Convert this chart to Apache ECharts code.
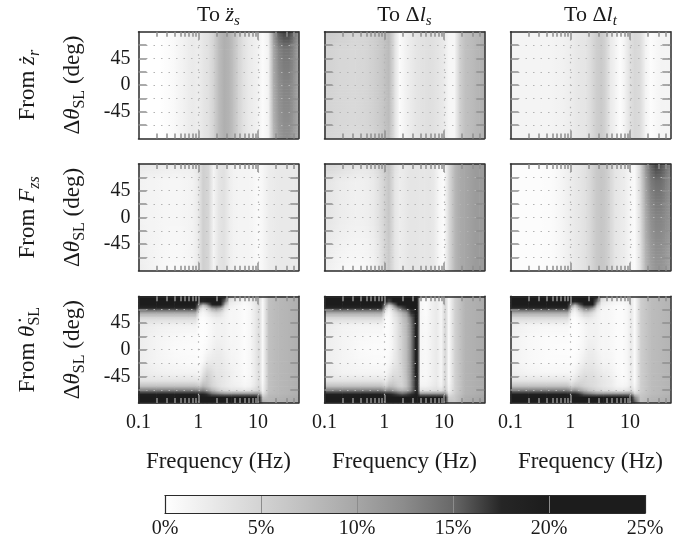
<!DOCTYPE html>
<html>
<head>
<meta charset="utf-8">
<script src="https://cdn.jsdelivr.net/npm/echarts@6/dist/echarts.min.js"></script>
<style>
html,body{margin:0;padding:0;background:#fff;}
#chart{width:692px;height:543px;}
</style>
</head>
<body>
<div id="chart"></div>
<script>
// ================= DATA =================
// frequency nodes (Hz) for the first two rows of panels
const FREQ = [0.1, 0.12, 0.15, 0.18, 0.22, 0.27, 0.33, 0.39, 0.47, 0.56, 0.68, 0.82, 1.0, 1.2, 1.5, 1.8, 2.2, 2.7, 3.3, 3.9, 4.7, 5.6, 6.8, 8.2, 10, 12, 15, 18, 22, 27, 33, 39, 47];
// angle rows (deg) for the first two rows of panels: top edge, upper, centre, bottom edge
const ANG_ROWS = [90, 60, 0, -90];

// Row 1: from z_r  (values in %)
const ZR_ZS_TOP = [0, 0, 0, 0, 0, 0.2, 0.4, 0.7, 1.1, 1.5, 2.0, 2.4, 2.0, 2.8, 3.5, 5.0, 7.5, 9.0, 8.5, 7.0, 5.0, 3.5, 2.5, 2.0, 1.5, 0.5, 2.0, 11, 15.5, 16.5, 16.5, 15, 12];
const ZR_ZS_UP  = [0, 0, 0, 0, 0, 0.2, 0.4, 0.7, 1.1, 1.5, 2.0, 2.4, 2.0, 2.8, 3.5, 5.0, 7.5, 9.0, 8.5, 7.0, 5.0, 3.5, 2.5, 2.0, 1.5, 0.5, 1.5, 9.5, 13, 14, 14, 13, 10.5];
const ZR_ZS_MID = [0, 0, 0, 0, 0, 0.2, 0.4, 0.7, 1.1, 1.5, 2.0, 2.4, 2.0, 2.8, 3.5, 5.0, 7.5, 9.0, 8.5, 7.0, 5.0, 3.5, 2.5, 2.0, 1.5, 0.5, 1.5, 9, 12, 13, 13, 12, 10];
const ZR_ZS_BOT = [0, 0, 0, 0, 0, 0.2, 0.4, 0.7, 1.1, 1.5, 2.0, 2.4, 2.0, 2.8, 3.5, 5.0, 7.5, 9.0, 8.5, 7.0, 5.0, 3.5, 2.5, 2.0, 1.5, 0.5, 1.5, 8, 11, 12, 12, 11, 9.5];

const ZR_LS_TOP = [6.0, 6.0, 5.8, 5.5, 5.3, 5.0, 4.8, 4.8, 4.9, 5.2, 5.6, 6.2, 7.0, 8.0, 3.6, 0.6, 1.4, 2.2, 2.8, 3.2, 3.4, 3.6, 3.4, 3.0, 2.4, 1.0, 1.0, 5.0, 7.0, 7.5, 8.0, 8.5, 9.0];
const ZR_LS_MID = [5.0, 5.0, 4.8, 4.6, 4.5, 4.4, 4.4, 4.5, 4.7, 5.0, 5.4, 6.0, 6.8, 7.8, 3.4, 0.5, 1.4, 2.2, 2.8, 3.2, 3.4, 3.6, 3.4, 3.0, 2.4, 1.0, 1.0, 5.0, 7.0, 7.5, 8.0, 8.5, 9.0];
const ZR_LS_BOT = [4.8, 4.8, 4.6, 4.4, 4.3, 4.2, 4.2, 4.3, 4.5, 4.8, 5.2, 5.8, 6.6, 7.6, 3.4, 0.5, 1.4, 2.2, 2.8, 3.2, 3.4, 3.6, 3.4, 3.0, 2.4, 1.0, 1.0, 5.0, 7.0, 7.5, 8.0, 8.5, 9.0];

const ZR_LT_MID = [1.2, 1.2, 1.2, 1.2, 1.2, 1.2, 1.2, 1.2, 1.3, 1.4, 1.5, 1.7, 2.0, 2.5, 2.8, 3.0, 4.0, 5.5, 6.0, 5.0, 2.5, 1.5, 0.3, 1.5, 3.5, 4.5, 4.0, 1.5, 0.3, 0.8, 1.2, 1.3, 1.3];

// Row 2: from F_zs
const FZ_ZS_TOP = [2.8, 2.7, 2.6, 2.5, 2.4, 2.3, 2.2, 2.1, 2.0, 2.0, 2.0, 2.1, 3.0, 5.5, 4.5, 1.2, 3.0, 3.5, 2.0, 1.5, 1.3, 1.2, 1.2, 1.0, 0.6, 1.0, 2.0, 2.3, 2.5, 2.5, 2.5, 2.5, 2.5];
const FZ_ZS_MID = [1.5, 1.4, 1.3, 1.2, 1.1, 1.0, 1.0, 1.0, 1.0, 1.1, 1.2, 1.5, 2.5, 5.5, 4.5, 1.2, 3.0, 3.5, 2.0, 1.5, 1.3, 1.2, 1.2, 1.0, 0.6, 1.0, 2.0, 2.3, 2.5, 2.5, 2.5, 2.5, 2.5];
const FZ_ZS_BOT = [2.0, 1.8, 1.5, 1.2, 1.0, 0.8, 0.7, 0.7, 0.7, 0.8, 1.0, 1.3, 2.5, 5.5, 4.5, 1.2, 3.0, 3.5, 2.0, 1.5, 1.3, 1.2, 1.2, 1.0, 0.6, 1.0, 2.0, 2.3, 2.5, 2.5, 2.5, 2.5, 2.5];

const FZ_LS_TOP = [5.0, 4.8, 4.5, 4.2, 3.8, 3.5, 3.2, 3.0, 3.0, 3.2, 3.6, 4.5, 6.0, 7.0, 3.5, 2.2, 2.5, 3.0, 3.0, 2.8, 2.8, 3.0, 2.5, 1.0, 0.5, 4.0, 8.0, 9.5, 10.0, 10.5, 11.0, 11.0, 11.0];
const FZ_LS_MID = [3.0, 2.8, 2.5, 2.2, 2.0, 1.8, 1.7, 1.7, 1.8, 2.0, 2.5, 3.5, 5.0, 6.5, 3.0, 2.0, 2.5, 3.0, 3.0, 2.8, 2.8, 3.0, 2.5, 1.0, 0.5, 4.0, 8.0, 9.5, 10.0, 10.5, 11.0, 11.0, 11.0];
const FZ_LS_BOT = [2.0, 1.6, 1.2, 1.0, 0.8, 0.7, 0.7, 0.7, 0.8, 1.0, 1.5, 2.5, 4.5, 6.0, 3.0, 2.0, 2.5, 3.0, 3.0, 2.8, 2.8, 3.0, 2.5, 1.0, 0.5, 4.0, 8.0, 9.5, 10.0, 10.5, 11.0, 11.0, 11.0];

const FZ_LT_TOP = [0.3, 0.3, 0.3, 0.3, 0.3, 0.3, 0.3, 0.4, 0.5, 0.7, 1.0, 1.5, 2.0, 2.5, 3.0, 3.5, 4.5, 6.0, 6.5, 6.0, 4.5, 3.0, 2.5, 2.0, 1.0, 0.8, 5.0, 11.0, 15.0, 16.5, 16.0, 15.0, 13.0];
const FZ_LT_UP  = [0.3, 0.3, 0.3, 0.3, 0.3, 0.3, 0.3, 0.4, 0.5, 0.7, 1.0, 1.5, 2.0, 2.5, 3.0, 3.5, 4.5, 6.0, 6.5, 6.0, 4.5, 3.0, 2.5, 2.0, 1.0, 0.6, 4.5, 10.0, 13.5, 14.5, 14.5, 13.5, 12.0];
const FZ_LT_MID = [0.3, 0.3, 0.3, 0.3, 0.3, 0.3, 0.3, 0.4, 0.5, 0.7, 1.0, 1.5, 2.0, 2.5, 3.0, 3.5, 4.5, 6.0, 6.5, 6.0, 4.5, 3.0, 2.5, 2.0, 1.0, 0.5, 4.0, 9.0, 12.0, 13.0, 13.0, 12.5, 11.5];
const FZ_LT_BOT = [0.3, 0.3, 0.3, 0.3, 0.3, 0.3, 0.3, 0.4, 0.5, 0.7, 1.0, 1.5, 2.0, 2.5, 3.0, 3.5, 4.5, 6.0, 6.5, 6.0, 4.5, 3.0, 2.5, 2.0, 1.0, 0.5, 3.5, 8.0, 10.5, 11.5, 11.5, 11.0, 10.0];

// Row 3: from theta_SL — frequency nodes and angle nodes (top to bottom)
const FREQ3 = [0.1, 0.2, 0.4, 0.7, 0.9, 1.05, 1.2, 1.4, 1.7, 2.0, 2.4, 2.8, 3.3, 3.6, 4.0, 5.0, 6.0, 7.5, 9.0, 10.5, 12, 15, 22, 33, 47];
const ANG3 = [90, 80, 75, 70, 62, 52, 40, 20, 0, -20, -40, -52, -62, -70, -75, -80, -90];
// one column per frequency of FREQ3, values from +90 deg down to -90 deg
const TH_ZS = [
 [22,22,22,18,10,4,2.5,2,2,2,2.5,3,7,14,19,22,22],
 [22,22,22,18,10,4,1.8,1.2,1.2,1.2,1.8,3,7,14,19,22,22],
 [22,22,22,18,10,4,1.5,0.8,0.6,0.8,1.5,3,7,14,19,22,22],
 [22,22,22,18,10,4,1.5,0.6,0.5,0.6,1.5,3,7,14,19,22,22],
 [22,22,22,18,10,4,1.5,0.6,0.5,0.6,1.5,3,7,14,19,22,22],
 [22,21,14,6,2,0.5,0.3,0.2,0.2,0.3,1,2.5,6,13,18,22,22],
 [22,18,8,3,1,0.3,0.2,0.2,0.3,0.8,3,5,8,14,18,22,22],
 [22,20,12,5,2,0.8,0.5,0.5,0.8,2,5,6,7,12,17,22,22],
 [22,22,19,11,4,1.5,1,1,1.5,2.5,4,4.5,5,9,15,21,22],
 [22,22,21,13,5,2,1.5,1.5,2,2.5,3,3.5,4,7,14,21,22],
 [22,22,18,10,4,2,1.5,1.5,2,2.5,3,3,3,5,13,21,22],
 [20,14,8,4,2,1.5,1.5,1.5,1.5,2,2.5,2.5,2.5,4.5,12,21,22],
 [6,3,2,1.5,1,1,1,1,1.2,1.5,2,2,2,4,12,21,22],
 [5,2.5,1.8,1.2,1,1,1,1,1.1,1.3,1.8,1.8,1.9,3.5,12,21,22],
 [4,2,1.5,1,1,1,1,1,1,1.2,1.5,1.5,1.8,3.5,12,21,22],
 [3,1.5,1,0.8,0.8,0.8,0.8,0.8,0.8,0.8,1,1.2,1.5,3.5,12,21,22],
 [2,0.8,0.5,0.3,0.3,0.3,0.3,0.3,0.3,0.3,0.5,0.7,1,3,12,21,22],
 [3,1.5,1.2,1,1,1,1,1,1,1,1,1.2,1.5,3.5,12,21,22],
 [4,3,2.5,2.5,2.5,2.5,2.5,2.5,2.5,2.5,2.5,2.5,3,4.5,12,21,22],
 [5,4,4,4,4,4,4,4,4,4,4,4,4.5,5.5,12,20,21],
 [1,0.5,0.5,0.5,0.5,0.5,0.5,0.5,0.5,0.5,0.5,0.5,1,1.5,3,6,10],
 [7,7,7,7,7,7,7,7,7,7,7,7,7,7,7.5,8,8.5],
 [8,8,8,8,8,8,8,8,8,8,8,8,8,8,8,8.5,9],
 [8.5,8.5,8.5,8.5,8.5,8.5,8.5,8.5,8.5,8.5,8.5,8.5,8.5,8.5,8.5,9,9.5],
 [9,9,9,9,9,9,9,9,9,9,9,9,9,9,9,9.5,10]
];
const TH_LS = [
 [22,22,22,18,10,4,2.5,2,2,2,2.5,3,7,14,19,22,22],
 [22,22,22,18,10,4,1.5,1.2,1.2,1.2,1.5,3,7,14,19,22,22],
 [22,22,22,18,10,4,1.2,0.8,0.6,0.8,1.2,3,7,14,19,22,22],
 [22,22,22,18,10,4,1.2,0.6,0.5,0.6,1.2,3,7,14,19,22,22],
 [22,22,22,18,10,4,1.2,0.6,0.5,0.6,1.2,3,7,14,19,22,22],
 [22,21,14,6,2,0.5,0.3,0.3,0.3,0.5,1,2,5,12,18,22,22],
 [22,16,6,2,0.8,0.5,0.5,0.5,0.5,0.8,2,4,7,13,18,22,22],
 [22,20,12,6,3,2,1.5,1.5,1.5,2,3.5,5,7,12,17,22,22],
 [22,22,20,13,6,4,3.5,3.5,3.5,3.5,4,4.5,5.5,10,16,22,22],
 [22,22,22,16,9,6.5,6,5.5,5.5,5.5,5,5,5,9,15,22,22],
 [22,22,22,19,12,9,8.5,8,8,8,8,7.5,7.5,10,16,22,22],
 [22,22,22,21,17,14,13,12.5,12.5,12.5,12,12,12,13,17,22,22],
 [22,22,22,22,20,19,18,18,18,18,18,17,17,17,19,22,22],
 [22,22,22,22,21,20,20,20,20,20,20,19,19,19,20,22,22],
 [2,1,1,1,1,1,1,1,1,1,1,1,1.5,3.5,12,21,22],
 [1,0.5,0.5,0.5,0.5,0.6,0.7,0.8,0.8,0.8,0.8,1,1.5,3.5,12,21,22],
 [1.5,1.5,1.5,1.5,1.5,1.5,1.5,1.5,1.5,1.5,1.5,1.5,2,3.5,12,21,22],
 [2.5,2.5,2.5,2.5,2.5,2.5,2.5,2.5,2.5,2.5,2.5,2.5,3,4,12,21,22],
 [1,1,1,1,1,1,1,1,1,1,1,1,1.5,3.5,12,21,22],
 [5,5,5,5,5,5,5,5,5,5,5,5,5.5,6.5,12,20,21],
 [0.5,0.5,0.5,0.5,0.5,0.5,0.5,0.5,0.5,0.5,0.5,0.5,1,1.5,3,5,7],
 [5,5,5,5,5,5,5,5,5,5,5,5,5,5,5.5,6,6.5],
 [8.5,8.5,8.5,8.5,8.5,8.5,8.5,8.5,8.5,8.5,8.5,8.5,8.5,8.5,8.5,9,9.5],
 [9,9,9,9,9,9,9,9,9,9,9,9,9,9,9,9.5,10],
 [9.5,9.5,9.5,9.5,9.5,9.5,9.5,9.5,9.5,9.5,9.5,9.5,9.5,9.5,9.5,10,10.5]
];
const TH_LT = [
 [22,22,22,18,10,4,2,1.5,1.5,1.5,2,3,7,14,19,22,22],
 [22,22,22,18,10,4,1.2,0.8,0.8,0.8,1.2,3,7,14,19,22,22],
 [22,22,22,18,10,4,1,0.5,0.4,0.5,1,3,7,14,19,22,22],
 [22,22,22,18,10,4,1,0.4,0.3,0.4,1,3,7,14,19,22,22],
 [22,22,22,18,10,4,1,0.4,0.3,0.4,1,3,7,14,19,22,22],
 [22,21,14,6,2,0.5,0.3,0.2,0.2,0.3,1,2,5,12,18,22,22],
 [22,18,8,3,1,0.3,0.2,0.2,0.2,0.5,1.5,3,6,13,18,22,22],
 [22,21,15,8,3,1,0.5,0.5,0.6,1,2.5,4,6,11,17,22,22],
 [22,22,21,14,6,2,1,1,1.2,2,3.5,4.5,5,9,15,21,22],
 [22,22,22,15,6,2.5,1.5,1.5,2,2.5,3.5,4,4.5,7,14,21,22],
 [22,22,20,11,4,2,1.5,1.5,2,2.5,3.5,4,4,6,13,21,22],
 [20,14,8,4,2,1.5,1.5,1.5,1.5,2,3,3.5,3.5,5,12,21,22],
 [6,3,2,1.5,1,1,1,1,1,1.5,2.5,3,3,4.5,12,21,22],
 [5,2.5,1.8,1.2,1,1,1,1,1,1.3,2.2,2.8,2.8,4,12,21,22],
 [4,2,1.5,1,1,1,1,1,1,1.2,2,2.5,2.5,4,12,21,22],
 [3,1.5,1,0.8,0.8,0.8,0.8,0.8,0.8,1,1.5,2,2,3.5,12,21,22],
 [2,1,0.7,0.5,0.5,0.5,0.5,0.5,0.5,0.5,0.8,1,1.2,3,12,21,22],
 [2,1,0.7,0.5,0.5,0.5,0.5,0.5,0.5,0.5,0.5,0.7,1,3,12,21,22],
 [2,1.5,1.2,1,1,1,1,1,1,1,1,1,1.5,3.5,12,21,22],
 [3,2.5,2.5,2.5,2.5,2.5,2.5,2.5,2.5,2.5,2.5,2.5,3,4.5,12,21,22],
 [1,0.5,0.5,0.5,0.5,0.5,0.5,0.5,0.5,0.5,0.5,0.5,1,2,5,12,16],
 [5.5,5.5,5.5,5.5,5.5,5.5,5.5,5.5,5.5,5.5,5.5,5.5,5.5,5.5,6,6.5,7],
 [7.5,7.5,7.5,7.5,7.5,7.5,7.5,7.5,7.5,7.5,7.5,7.5,7.5,7.5,7.5,8,8.5],
 [8,8,8,8,8,8,8,8,8,8,8,8,8,8,8,8.5,9],
 [8.5,8.5,8.5,8.5,8.5,8.5,8.5,8.5,8.5,8.5,8.5,8.5,8.5,8.5,8.5,9,9.5]
];

// axis ticks / labels
const X_MIN = 0.1, X_MAX = 47;
const X_TICK_LABELS = [0.1, 1, 10];
const X_MAJOR_TICKS = [1, 10];
const X_MINOR_TICKS = [0.2, 0.3, 0.4, 0.5, 0.6, 0.7, 0.8, 0.9, 2, 3, 4, 5, 6, 7, 8, 9, 20, 30, 40];
const Y_TICKS = [-67.5, -45, -22.5, 0, 22.5, 45, 67.5];
const Y_TICK_LABELS = [-45, 0, 45];
const CBAR_LEVELS = [0, 2.5, 5, 7.5, 10, 12.5, 15, 17.5, 20, 22.5, 25];
const GRAY_SCALE = ['#ffffff', '#e9e9e9', '#d3d3d3', '#bdbdbd', '#a6a6a6', '#8b8b8b', '#686868', '#262626', '#1c1c1c', '#1c1c1c', '#1c1c1c'];

// texts
const COL_TITLES = ['{n|To }{i|z\u0308}{s|s}', '{n|To \u0394}{i|l}{s|s}', '{n|To \u0394}{i|l}{s|t}'];
const ROW_TITLES = ['{n|From }{i|\u017c}{s|r}', '{n|From }{i|F}{s|zs}', '{n|From }{i|\u03b8\u0307}{u|SL}'];
const Y_NAME = '{n|\u0394}{i|\u03b8}{u|SL}{n| (deg)}';
const X_NAME = '{n|Frequency (Hz)}';

// ================= CHART =================
const FONT = '"Liberation Serif","Times New Roman",Times,serif';
const INK = '#1a1a1a', FRAME = '#2a2a2a', TICK = '#8e8e8e', DOT = '#b4b4b4';
const GRID_LEFTS = [138.5, 324.5, 510.5];
const GRID_TOPS = [31.7, 164, 296.3];
const GRID_W = 159.8, GRID_H = 106.8;

const PANELS = [
  {freqs: FREQ, angs: ANG_ROWS, rows: [ZR_ZS_TOP, ZR_ZS_UP, ZR_ZS_MID, ZR_ZS_BOT]},
  {freqs: FREQ, angs: ANG_ROWS, rows: [ZR_LS_TOP, ZR_LS_MID, ZR_LS_MID, ZR_LS_BOT]},
  {freqs: FREQ, angs: ANG_ROWS, rows: [ZR_LT_MID, ZR_LT_MID, ZR_LT_MID, ZR_LT_MID]},
  {freqs: FREQ, angs: ANG_ROWS, rows: [FZ_ZS_TOP, FZ_ZS_MID, FZ_ZS_MID, FZ_ZS_BOT]},
  {freqs: FREQ, angs: ANG_ROWS, rows: [FZ_LS_TOP, FZ_LS_MID, FZ_LS_MID, FZ_LS_BOT]},
  {freqs: FREQ, angs: ANG_ROWS, rows: [FZ_LT_TOP, FZ_LT_UP, FZ_LT_MID, FZ_LT_BOT]},
  {freqs: FREQ3, angs: ANG3, cols: TH_ZS},
  {freqs: FREQ3, angs: ANG3, cols: TH_LS},
  {freqs: FREQ3, angs: ANG3, cols: TH_LT}
];

function buildNodes(p) {
  const out = [];
  for (let j = 0; j < p.angs.length; j++) {
    for (let i = 0; i < p.freqs.length; i++) {
      const v = p.rows ? p.rows[j][i] : p.cols[i][j];
      out.push([p.freqs[i], p.angs[j], v]);
    }
  }
  return out;
}

function cellRenderer(nF, nA) {
  return function (params, api) {
    const k = params.dataIndexInside;
    const i = k % nF, j = (k - i) / nF;
    if (i >= nF - 1 || j >= nA - 1) return null;
    const kR = k + 1, kD = k + nF, kRD = k + nF + 1;
    const pA = api.coord([api.value(0, k), api.value(1, k)]);
    const pB = api.coord([api.value(0, kRD), api.value(1, kRD)]);
    const cA = api.visual('color', k), cR = api.visual('color', kR);
    const cD = api.visual('color', kD), cRD = api.visual('color', kRD);
    const x0 = pA[0], x1 = pB[0], y0 = pA[1], y1 = pB[1];
    const xl = Math.min(x0, x1), w = Math.abs(x1 - x0);
    const children = [];
    const same = (cA === cD && cR === cRD);
    const n = same ? 1 : Math.max(1, Math.ceil(Math.abs(y1 - y0) / 1.5));
    for (let s = 0; s < n; s++) {
      const t = (s + 0.5) / n;
      const ya = y0 + (y1 - y0) * s / n, yb = y0 + (y1 - y0) * (s + 1) / n;
      const cl = same ? cA : echarts.color.lerp(t, [cA, cD]);
      const cr = same ? cR : echarts.color.lerp(t, [cR, cRD]);
      children.push({
        type: 'rect',
        shape: {x: xl - 0.3, y: Math.min(ya, yb) - 0.3, width: w + 0.6, height: Math.abs(yb - ya) + 0.6},
        style: {fill: new echarts.graphic.LinearGradient(0, 0, 1, 0, [{offset: 0, color: cl}, {offset: 1, color: cr}])}
      });
    }
    return {type: 'group', children: children, silent: true};
  };
}

const grids = [], xAxes = [], yAxes = [], series = [];
function hiddenParts() {
  return {axisLine: {show: false, onZero: false}, axisTick: {show: false}, axisLabel: {show: false},
          splitLine: {show: false}, splitArea: {show: false}};
}
function fmtFreq(v) { return v < 0.5 ? '0.1' : String(Math.round(v)); }

for (let r = 0; r < 3; r++) {
  for (let c = 0; c < 3; c++) {
    const g = r * 3 + c;
    grids.push({left: GRID_LEFTS[c], top: GRID_TOPS[r], width: GRID_W, height: GRID_H, containLabel: false, outerBoundsMode: 'none'});
    const xb = {type: 'log', logBase: 10, min: X_MIN, max: X_MAX, gridIndex: g, z: 4, silent: true};
    const lineOn = {show: true, onZero: false, lineStyle: {color: FRAME, width: 1.5}};
    xAxes.push(Object.assign({}, xb, hiddenParts(), {position: 'bottom', axisLine: lineOn,
      axisTick: {show: true, inside: true, length: 8, customValues: X_MAJOR_TICKS, lineStyle: {color: TICK, width: 1.5}},
      splitLine: {show: true, lineStyle: {color: DOT, width: 1.2, type: [1.5, 6]}},
      axisLabel: {show: r === 2, customValues: X_TICK_LABELS, formatter: fmtFreq, margin: 10, fontFamily: FONT, fontSize: 20, color: INK}}));
    xAxes.push(Object.assign({}, xb, hiddenParts(), {position: 'bottom',
      axisTick: {show: true, inside: true, length: 5, customValues: X_MINOR_TICKS, lineStyle: {color: TICK, width: 1.5}}}));
    xAxes.push(Object.assign({}, xb, hiddenParts(), {position: 'top', axisLine: lineOn,
      axisTick: {show: true, inside: true, length: 8, customValues: X_MAJOR_TICKS, lineStyle: {color: TICK, width: 1.5}}}));
    xAxes.push(Object.assign({}, xb, hiddenParts(), {position: 'top',
      axisTick: {show: true, inside: true, length: 5, customValues: X_MINOR_TICKS, lineStyle: {color: TICK, width: 1.5}}}));
    const yb = {type: 'value', min: -90, max: 90, gridIndex: g, z: 4, silent: true};
    yAxes.push(Object.assign({}, yb, hiddenParts(), {position: 'left', axisLine: lineOn,
      axisTick: {show: true, inside: true, length: 8, customValues: Y_TICKS, lineStyle: {color: TICK, width: 1.5}},
      splitLine: {show: true, lineStyle: {color: DOT, width: 1.2, type: [1.5, 6]}},
      axisLabel: {show: c === 0, customValues: Y_TICK_LABELS, margin: 8, fontFamily: FONT, fontSize: 20, color: INK}}));
    yAxes.push(Object.assign({}, yb, hiddenParts(), {position: 'right', axisLine: lineOn,
      axisTick: {show: true, inside: true, length: 8, customValues: Y_TICKS, lineStyle: {color: TICK, width: 1.5}}}));

    const p = PANELS[g];
    series.push({
      type: 'custom', xAxisIndex: g * 4, yAxisIndex: g * 2, z: 1, silent: true, animation: false,
      encode: {x: 0, y: 1}, data: buildNodes(p),
      renderItem: cellRenderer(p.freqs.length, p.angs.length)
    });
  }
}

// colour bar
const CB = 9;
grids.push({left: 165, top: 495.5, width: 480, height: 17.5, containLabel: false, outerBoundsMode: 'none'});
xAxes.push(Object.assign({type: 'value', min: 0, max: 25, interval: 5, gridIndex: CB, z: 4, silent: true}, hiddenParts(), {position: 'bottom',
  axisLine: {show: true, onZero: false, lineStyle: {color: FRAME, width: 1.2}},
  splitLine: {show: true, lineStyle: {color: '#8c8c8c', width: 1}},
  axisLabel: {show: true, formatter: '{value}%', margin: 6, fontFamily: FONT, fontSize: 20, color: INK}}));
xAxes.push(Object.assign({type: 'value', min: 0, max: 25, gridIndex: CB, z: 5, silent: true}, hiddenParts(), {position: 'top',
  axisLine: {show: true, onZero: false, lineStyle: {color: FRAME, width: 1.2}}}));
yAxes.push(Object.assign({type: 'value', min: 0, max: 1, gridIndex: CB, z: 5, silent: true}, hiddenParts(), {position: 'left',
  axisLine: {show: true, onZero: false, lineStyle: {color: FRAME, width: 1.2}}}));
yAxes.push(Object.assign({type: 'value', min: 0, max: 1, gridIndex: CB, z: 5, silent: true}, hiddenParts(), {position: 'right',
  axisLine: {show: true, onZero: false, lineStyle: {color: FRAME, width: 1.2}}}));
series.push({
  type: 'custom', xAxisIndex: 36, yAxisIndex: 18, z: 1, silent: true, animation: false,
  encode: {x: 0, y: 1}, data: CBAR_LEVELS.map(v => [v, 0, v]),
  renderItem: function (params, api) {
    const k = params.dataIndexInside;
    if (k >= CBAR_LEVELS.length - 1) return null;
    const a = api.coord([api.value(0, k), 0]);
    const b = api.coord([api.value(0, k + 1), 1]);
    return {type: 'rect', shape: {x: a[0] - 0.3, y: b[1], width: b[0] - a[0] + 0.6, height: a[1] - b[1]},
      style: {fill: new echarts.graphic.LinearGradient(0, 0, 1, 0, [
        {offset: 0, color: api.visual('color', k)}, {offset: 1, color: api.visual('color', k + 1)}])}};
  }
});

// text
function richFor(size) {
  const sub = Math.round(size * 0.7), lh = size + 6;
  return {
    n: {fontFamily: FONT, fontSize: size, fill: INK, lineHeight: lh, verticalAlign: 'middle'},
    i: {fontFamily: FONT, fontSize: size, fontStyle: 'italic', fill: INK, lineHeight: lh, verticalAlign: 'middle'},
    s: {fontFamily: FONT, fontSize: sub, fontStyle: 'italic', fill: INK, lineHeight: sub, verticalAlign: 'bottom'},
    u: {fontFamily: FONT, fontSize: sub, fill: INK, lineHeight: sub, verticalAlign: 'bottom'}
  };
}
function textEl(x, y, text, rot, size) {
  return {type: 'text', x: x, y: y, rotation: rot, silent: true, z: 20,
    style: {legacy: false, text: text, rich: richFor(size), align: 'center', verticalAlign: 'middle',
            fill: INK, fontFamily: FONT, fontSize: size}};
}
const graphics = [];
for (let c = 0; c < 3; c++) {
  graphics.push(textEl(GRID_LEFTS[c] + GRID_W / 2, 15, COL_TITLES[c], 0, 22));
  graphics.push(textEl(GRID_LEFTS[c] + GRID_W / 2, 462, X_NAME, 0, 23));
}
for (let r = 0; r < 3; r++) {
  graphics.push(textEl(28, GRID_TOPS[r] + GRID_H / 2, ROW_TITLES[r], Math.PI / 2, 23));
  graphics.push(textEl(73, GRID_TOPS[r] + GRID_H / 2, Y_NAME, Math.PI / 2, 23));
}

const chart = echarts.init(document.getElementById('chart'), null, {renderer: 'canvas'});
chart.setOption({
  animation: false,
  backgroundColor: '#ffffff',
  grid: grids,
  xAxis: xAxes,
  yAxis: yAxes,
  visualMap: {type: 'continuous', show: false, min: 0, max: 25, dimension: 2,
    seriesIndex: series.map((s, idx) => idx), inRange: {color: GRAY_SCALE}},
  series: series,
  graphic: {elements: graphics}
});
</script>
</body>
</html>
